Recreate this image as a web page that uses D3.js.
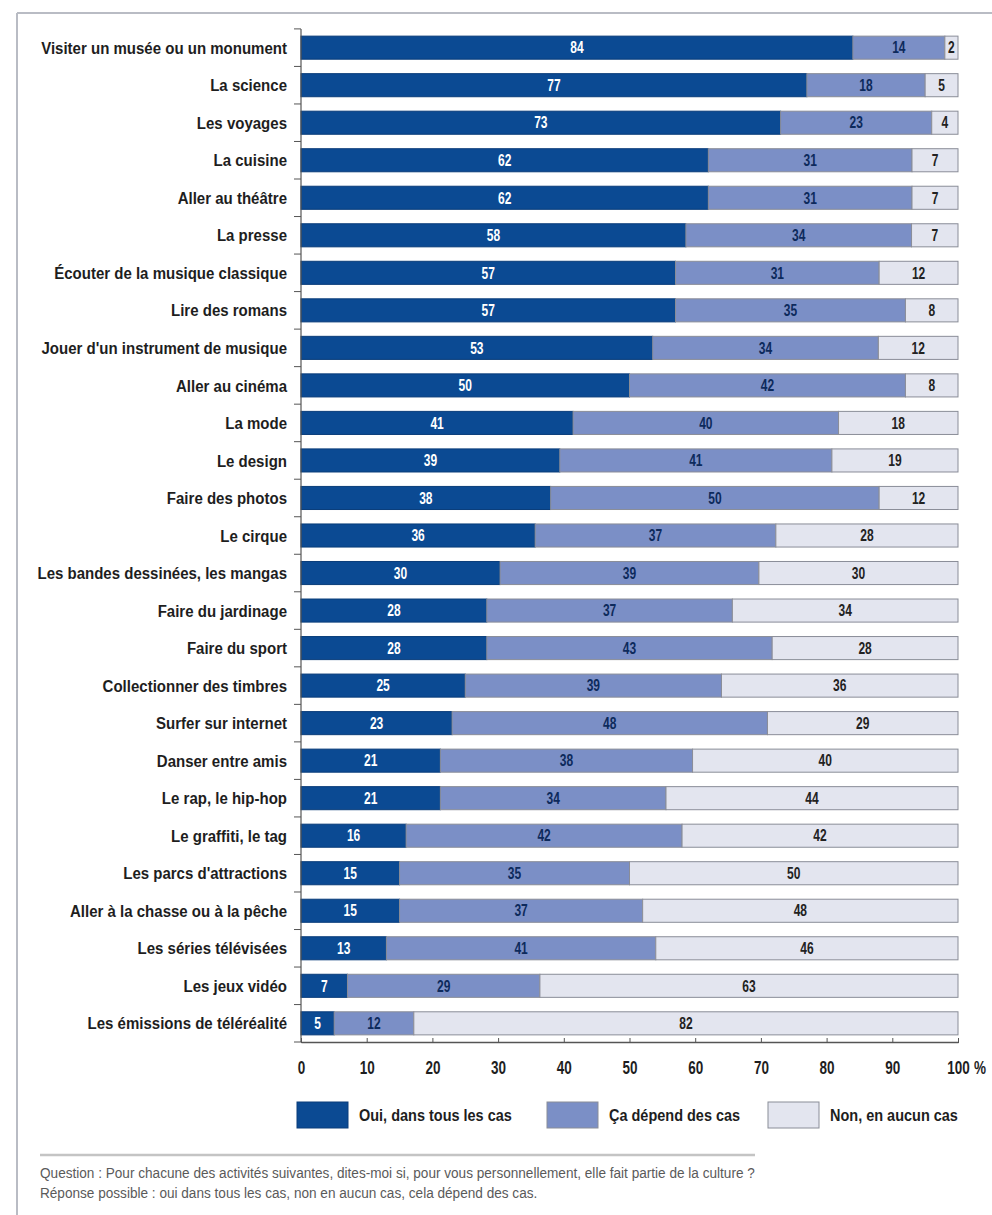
<!DOCTYPE html>
<html>
<head>
<meta charset="utf-8">
<script src="https://cdn.jsdelivr.net/npm/d3@7"></script>
<style>
  body { margin: 0; background: #fff; }
  svg text { font-family: "Liberation Sans", Arial, sans-serif; }
</style>
</head>
<body>
<div id="vis"></div>
<script>
// Données (en %)
const activites = [
  "Visiter un musée ou un monument", "La science", "Les voyages", "La cuisine",
  "Aller au théâtre", "La presse", "Écouter de la musique classique", "Lire des romans",
  "Jouer d'un instrument de musique", "Aller au cinéma", "La mode", "Le design",
  "Faire des photos", "Le cirque", "Les bandes dessinées, les mangas", "Faire du jardinage",
  "Faire du sport", "Collectionner des timbres", "Surfer sur internet", "Danser entre amis",
  "Le rap, le hip-hop", "Le graffiti, le tag", "Les parcs d'attractions",
  "Aller à la chasse ou à la pêche", "Les séries télévisées", "Les jeux vidéo",
  "Les émissions de téléréalité"
];
const oui = [84, 77, 73, 62, 62, 58, 57, 57, 53, 50, 41, 39, 38, 36, 30, 28, 28, 25, 23, 21, 21, 16, 15, 15, 13, 7, 5];
const depend = [14, 18, 23, 31, 31, 34, 31, 35, 34, 42, 40, 41, 50, 37, 39, 37, 43, 39, 48, 38, 34, 42, 35, 37, 41, 29, 12];
const non = [2, 5, 4, 7, 7, 7, 12, 8, 12, 8, 18, 19, 12, 28, 30, 34, 28, 36, 29, 40, 44, 42, 50, 48, 46, 63, 82];

const series = ["oui", "depend", "non"];
const legende = ["Oui, dans tous les cas", "Ça dépend des cas", "Non, en aucun cas"];
const ticksX = [0, 10, 20, 30, 40, 50, 60, 70, 80, 90, 100];

const WIDTH = 992;
const HEIGHT = 1215;
const COULEURS = { oui: "#0b4a93", depend: "#7b8fc6", non: "#e3e5ef" };
const TEXTE = { oui: "#ffffff", depend: "#0d2a5c", non: "#222222" };

const SVG = d3.select("#vis").append("svg").attr("width", WIDTH).attr("height", HEIGHT);

// police étroite simulée : on comprime horizontalement autour du point d'ancrage
function condense(sel, k) {
  sel.each(function () {
    const t = d3.select(this);
    const x0 = +t.attr("x") || 0;
    t.attr("transform", `translate(${x0},0) scale(${k},1) translate(${-x0},0)`);
  });
}
// facteur pour qu'un texte de référence fasse la largeur voulue
function facteur(node, largeur) {
  return largeur / node.getComputedTextLength();
}

// cadre (haut + gauche)
SVG.append("line").attr("x1", 17).attr("x2", WIDTH).attr("y1", 13).attr("y2", 13)
  .attr("stroke", "#b9bcc4").attr("stroke-width", 2);
SVG.append("line").attr("x1", 17).attr("x2", 17).attr("y1", 13).attr("y2", HEIGHT)
  .attr("stroke", "#b9bcc4").attr("stroke-width", 2);

const table = activites.map((a, i) => ({ activite: a, oui: oui[i], depend: depend[i], non: non[i] }));

// les barres finissent toutes à 100 %
const stack = d3.stack().keys(series).offset(d3.stackOffsetExpand);
const couches = stack(table);

const x = d3.scaleLinear().domain([0, 1]).range([301, 958]);
const y = d3.scaleBand().domain(activites).range([29, 1042]).paddingInner(0.385).paddingOuter(0.19);

const g = SVG.append("g");

const couche = g.selectAll("g.couche")
  .data(couches)
  .join("g")
  .attr("class", "couche");

couche.selectAll("rect")
  .data(d => d.map(p => ({ key: d.key, p })))
  .join("rect")
  .attr("x", d => x(d.p[0]))
  .attr("y", d => y(d.p.data.activite))
  .attr("width", d => x(d.p[1]) - x(d.p[0]))
  .attr("height", y.bandwidth())
  .attr("fill", d => COULEURS[d.key])
  .attr("stroke", d => d.key == "oui" ? "#0a3d7a" : "#8a8d98")
  .attr("stroke-width", 1);

const valeurs = couche.selectAll("text")
  .data(d => d.map(p => ({ key: d.key, p })))
  .join("text")
  .attr("x", d => (x(d.p[0]) + x(d.p[1])) / 2)
  .attr("y", d => y(d.p.data.activite) + y.bandwidth() / 2)
  .attr("dy", "0.36em")
  .attr("text-anchor", "middle")
  .attr("font-size", 16)
  .attr("font-weight", "bold")
  .attr("fill", d => TEXTE[d.key])
  .text(d => d.p.data[d.key]);
condense(valeurs, 0.75);

// étiquettes des activités
const labels = g.selectAll("text.label")
  .data(activites)
  .join("text")
  .attr("class", "label")
  .attr("x", 287)
  .attr("y", d => y(d) + y.bandwidth() / 2)
  .attr("dy", "0.36em")
  .attr("text-anchor", "end")
  .attr("font-size", 17)
  .attr("font-weight", "bold")
  .attr("fill", "#1e1e1e")
  .text(d => d);
condense(labels, facteur(labels.node(), 246));

// axe vertical + petites graduations entre les barres
const bornes = activites.map(a => y(a) - y.step() * y.paddingInner() / 2);
bornes.push(1042);
g.append("line").attr("x1", 301).attr("x2", 301).attr("y1", 29).attr("y2", 1042)
  .attr("stroke", "#555").attr("stroke-width", 1.2);
g.selectAll("line.tick-y")
  .data(bornes)
  .join("line")
  .attr("class", "tick-y")
  .attr("x1", 294).attr("x2", 301)
  .attr("y1", d => d).attr("y2", d => d)
  .attr("stroke", "#555");

// axe horizontal
const axeX = g.append("g")
  .attr("transform", "translate(0,1042)")
  .call(d3.axisBottom(x).tickValues(ticksX.map(t => t / 100)).tickFormat(t => Math.round(t * 100))
    .tickSizeInner(-5).tickSizeOuter(0).tickPadding(19));
axeX.select(".domain").attr("stroke", "#555").attr("stroke-width", 1.5);
axeX.selectAll(".tick line").attr("stroke", "#555").attr("transform", "translate(0,1)");
const ticks = axeX.selectAll(".tick text")
  .attr("font-size", 18)
  .attr("font-family", "\"Liberation Sans\", Arial, sans-serif")
  .attr("font-weight", "bold")
  .attr("fill", "#1e1e1e");
condense(ticks, 0.75);
const pct = g.append("text").attr("x", x(1) + 16).attr("y", 1074)
  .attr("font-size", 18).attr("font-weight", "bold").attr("fill", "#1e1e1e").text("%");
condense(pct, 0.75);

// légende
const legX = [297, 547, 768];
const leg = g.selectAll("g.leg")
  .data(series)
  .join("g")
  .attr("class", "leg")
  .attr("transform", (d, i) => `translate(${legX[i]},1102)`);
leg.append("rect")
  .attr("width", 51).attr("height", 26)
  .attr("fill", d => COULEURS[d])
  .attr("stroke", d => d == "oui" ? "#0a3d7a" : "#8a8d98");
const legTextes = leg.append("text")
  .attr("x", 62).attr("y", 13).attr("dy", "0.36em")
  .attr("font-size", 17).attr("font-weight", "bold").attr("fill", "#1e1e1e")
  .text((d, i) => legende[i]);
condense(legTextes, facteur(legTextes.nodes()[2], 128));

// note
g.append("line").attr("x1", 40).attr("x2", 755).attr("y1", 1155).attr("y2", 1155)
  .attr("stroke", "#c4c4c4").attr("stroke-width", 2.5);
const q = g.append("text").attr("x", 40).attr("y", 1173).attr("dy", "0.36em")
  .attr("font-size", 14).attr("fill", "#5a5a5a")
  .text("Question : Pour chacune des activités suivantes, dites-moi si, pour vous personnellement, elle fait partie de la culture ?");
const r = g.append("text").attr("x", 40).attr("y", 1193).attr("dy", "0.36em")
  .attr("font-size", 14).attr("fill", "#5a5a5a")
  .text("Réponse possible : oui dans tous les cas, non en aucun cas, cela dépend des cas.");
const kNote = facteur(q.node(), 715);
condense(q, kNote);
condense(r, kNote);
</script>
</body>
</html>
